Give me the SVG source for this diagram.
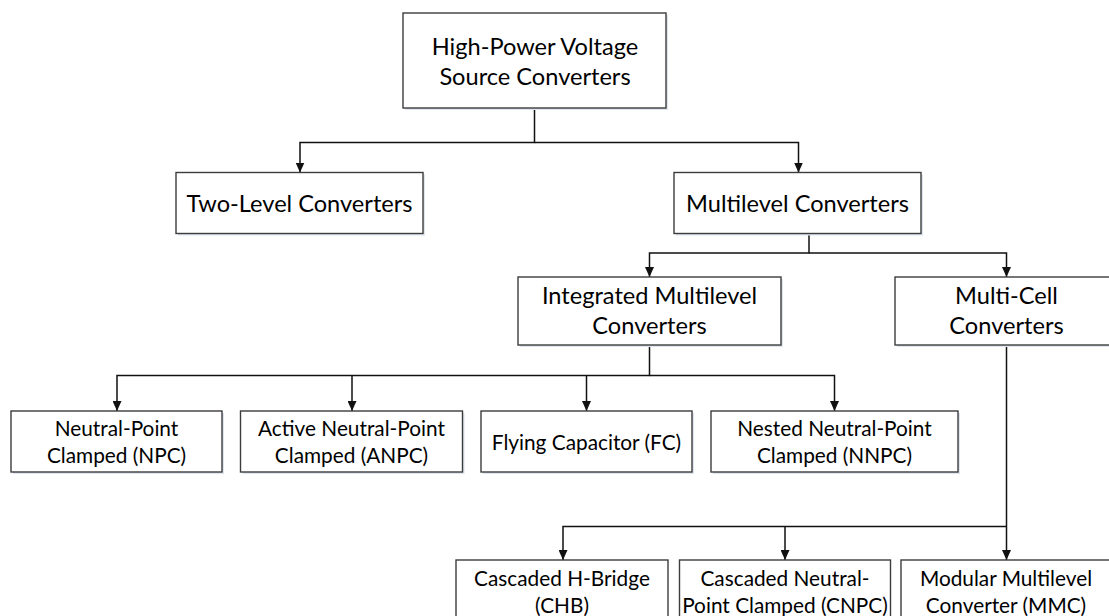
<svg xmlns="http://www.w3.org/2000/svg" width="1109" height="616" viewBox="0 0 1109 616">
<style>
.box{fill:#ffffff;stroke:#3c3c3c;stroke-width:1.4}
.sh{fill:#dde5ef;stroke:none}
.t1{font-family:Lato,"Liberation Sans",sans-serif;font-size:23.6px;fill:#000;text-anchor:middle}
.t2{font-family:Lato,"Liberation Sans",sans-serif;font-size:20.8px;fill:#000;text-anchor:middle}
.c{fill:none;stroke:#111;stroke-width:1.5}
</style>
<defs>
<marker id="ah" viewBox="0 0 10 9" refX="10" refY="4.5" markerWidth="10" markerHeight="9" markerUnits="userSpaceOnUse" orient="auto">
<path d="M0,0 L10,4.5 L0,9 Z" fill="#111"/>
</marker>
</defs>
<rect width="1109" height="616" fill="#ffffff"/>
<g id="connectors">
<path class="c" d="M534.5,108 V142.5 H300 V172.5" marker-end="url(#ah)"/>
<path class="c" d="M534.5,142.5 H798.5 V172.5" marker-end="url(#ah)"/>
<path class="c" d="M809,233.5 V253 H649.5 V277" marker-end="url(#ah)"/>
<path class="c" d="M809,253 H1006.5 V277" marker-end="url(#ah)"/>
<path class="c" d="M649.5,345.5 V375.5 H117 V411" marker-end="url(#ah)"/>
<path class="c" d="M352,375.5 V411" marker-end="url(#ah)"/>
<path class="c" d="M649.5,375.5 H834.5 V411" marker-end="url(#ah)"/>
<path class="c" d="M586.5,375.5 V411" marker-end="url(#ah)"/>
<path class="c" d="M1006.5,345.5 V560" marker-end="url(#ah)"/>
<path class="c" d="M1006.5,526.5 H563 V560" marker-end="url(#ah)"/>
<path class="c" d="M785,526.5 V560" marker-end="url(#ah)"/>
</g>
<g id="n-hpvsc">
<rect class="sh" x="405" y="15" width="263" height="95"/>
<rect class="box" x="403" y="13" width="263" height="95"/>
<text class="t1" x="535" y="55">High-Power Voltage</text>
<text class="t1" x="535" y="85">Source Converters</text>
</g>
<g id="n-twolevel">
<rect class="sh" x="178" y="174.5" width="247" height="61"/>
<rect class="box" x="176" y="172.5" width="247" height="61"/>
<text class="t1" x="299.5" y="212">Two-Level Converters</text>
</g>
<g id="n-multilevel">
<rect class="sh" x="676" y="174.5" width="247" height="61"/>
<rect class="box" x="674" y="172.5" width="247" height="61"/>
<text class="t1" x="797.5" y="212">Multilevel Converters</text>
</g>
<g id="n-integrated">
<rect class="sh" x="520" y="279" width="263" height="68"/>
<rect class="box" x="518" y="277" width="263" height="68"/>
<text class="t1" x="649.5" y="304">Integrated Multilevel</text>
<text class="t1" x="649.5" y="334">Converters</text>
</g>
<g id="n-multicell">
<rect class="sh" x="897" y="279" width="223" height="68"/>
<rect class="box" x="895" y="277" width="223" height="68"/>
<text class="t1" x="1006.5" y="304">Multi-Cell</text>
<text class="t1" x="1006.5" y="334">Converters</text>
</g>
<g id="n-npc">
<rect class="sh" x="13" y="413" width="211" height="61"/>
<rect class="box" x="11" y="411" width="211" height="61"/>
<text class="t2" x="116.5" y="436">Neutral-Point</text>
<text class="t2" x="116.5" y="463">Clamped (NPC)</text>
</g>
<g id="n-anpc">
<rect class="sh" x="242.5" y="413" width="222" height="61"/>
<rect class="box" x="240.5" y="411" width="222" height="61"/>
<text class="t2" x="351.5" y="436">Active Neutral-Point</text>
<text class="t2" x="351.5" y="463">Clamped (ANPC)</text>
</g>
<g id="n-fc">
<rect class="sh" x="483" y="413" width="211" height="61"/>
<rect class="box" x="481" y="411" width="211" height="61"/>
<text class="t2" x="586.5" y="450">Flying Capacitor (FC)</text>
</g>
<g id="n-nnpc">
<rect class="sh" x="713" y="413" width="247" height="61"/>
<rect class="box" x="711" y="411" width="247" height="61"/>
<text class="t2" x="834.5" y="436">Nested Neutral-Point</text>
<text class="t2" x="834.5" y="463">Clamped (NNPC)</text>
</g>
<g id="n-chb">
<rect class="box" x="456" y="560" width="212" height="70"/>
<text class="t2" x="562" y="586">Cascaded H-Bridge</text>
<text class="t2" x="562" y="613">(CHB)</text>
</g>
<g id="n-cnpc">
<rect class="box" x="679.5" y="560" width="211" height="70"/>
<text class="t2" x="785" y="586">Cascaded Neutral-</text>
<text class="t2" x="785" y="613">Point Clamped (CNPC)</text>
</g>
<g id="n-mmc">
<rect class="box" x="901" y="560" width="210" height="70"/>
<text class="t2" x="1006" y="586">Modular Multilevel</text>
<text class="t2" x="1006" y="613">Converter (MMC)</text>
</g>
</svg>
